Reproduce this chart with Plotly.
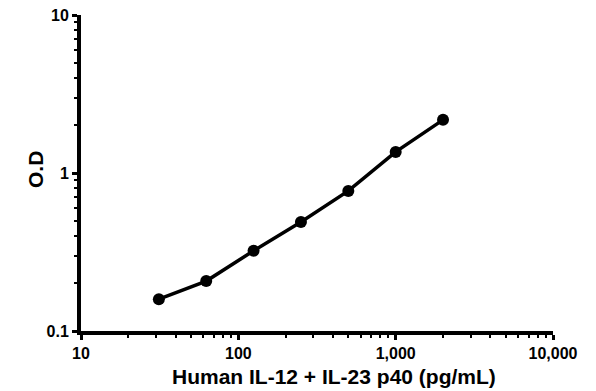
import plotly.graph_objects as go

conc = [31.25, 62.5, 125, 250, 500, 1000, 2000]
od = [0.159, 0.207, 0.322, 0.49, 0.77, 1.36, 2.17]

x_ticks = [10, 100, 1000, 10000]
x_labels = ["10", "100", "1,000", "10,000"]
y_ticks = [0.1, 1, 10]
y_labels = ["0.1", "1", "10"]

x_minor = [m * d for d in (10, 100, 1000) for m in range(2, 10)]
y_minor = [m * d for d in (0.1, 1) for m in range(2, 10)]

fig = go.Figure(go.Scatter(
    x=conc, y=od, mode="lines+markers",
    line=dict(color="black", width=3.5),
    marker=dict(color="black", size=12),
    showlegend=False,
))

fam = "Liberation Sans, Arial"
# page body has an 8px margin; compensate so the figure lands where the reference is
OFF = 8
W, H = 596 - OFF, 391 - OFF
ml, mt = 81 - OFF, 15 - OFF
mr = W - (553 - OFF)
mb = H - (331 - OFF)
pw, ph = W - ml - mr, H - mt - mb

fig.update_layout(
    width=W, height=H,
    margin=dict(l=ml, r=mr, t=mt, b=mb),
    paper_bgcolor="white", plot_bgcolor="white",
    font=dict(family=fam, color="black"),
    xaxis=dict(
        type="log", range=[1, 4], automargin=False, ticklabeloverflow="allow",
        tickmode="array", tickvals=x_ticks, ticktext=["<b>%s</b>" % t for t in x_labels],
        ticks="outside", ticklen=5, tickwidth=3, tickcolor="black",
        minor=dict(tickmode="array", tickvals=x_minor, ticks="outside", ticklen=3, tickwidth=2, tickcolor="black"),
        showline=True, linewidth=4, linecolor="black",
        showgrid=False, zeroline=False,
        tickfont=dict(size=16, family=fam, color="black"),
    ),
    yaxis=dict(
        type="log", range=[-1, 1], automargin=False, ticklabeloverflow="allow",
        tickmode="array", tickvals=y_ticks, ticktext=["<b>%s</b>" % t for t in y_labels],
        ticks="outside", ticklen=5, tickwidth=3, tickcolor="black",
        minor=dict(tickmode="array", tickvals=y_minor, ticks="outside", ticklen=3, tickwidth=2, tickcolor="black"),
        showline=True, linewidth=4, linecolor="black",
        showgrid=False, zeroline=False,
        tickfont=dict(size=16, family=fam, color="black"),
    ),
    annotations=[
        dict(text="<b>Human IL-12 + IL-23 p40 (pg/mL)</b>", xref="paper", yref="paper",
             x=(334 - 81) / pw, y=-(377 - 331) / ph, showarrow=False,
             xanchor="center", yanchor="middle", font=dict(size=21, family=fam, color="black")),
        dict(text="<b>O.D</b>", xref="paper", yref="paper",
             x=-(81 - 36) / pw, y=(331 - 170) / ph, showarrow=False, textangle=-90,
             xanchor="center", yanchor="middle", font=dict(size=21, family=fam, color="black")),
    ],
)

fig.write_html("out.html")
